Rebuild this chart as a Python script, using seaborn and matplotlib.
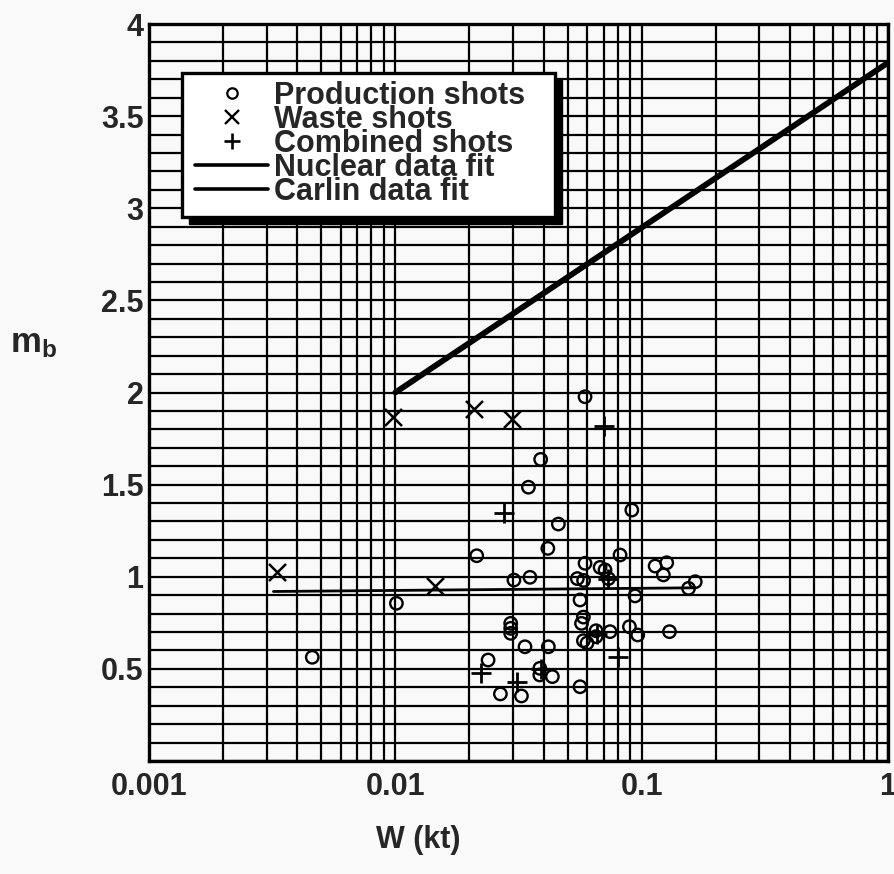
import matplotlib
matplotlib.use("Agg")
import matplotlib.pyplot as plt
import seaborn as sns
import numpy as np
import pandas as pd
from matplotlib.lines import Line2D
from matplotlib.patches import Rectangle
from matplotlib.ticker import FixedLocator, LogLocator, MultipleLocator, NullFormatter

# ---------------- data ----------------
production_w = [0.0046, 0.0101, 0.0589, 0.0389, 0.0347, 0.0459, 0.0416, 0.0214, 0.0303, 0.0352,
                0.0589, 0.0548, 0.0581, 0.0562, 0.0294, 0.0294, 0.0294, 0.058, 0.057, 0.058,
                0.0336, 0.0418, 0.0238, 0.0386, 0.0386, 0.0434, 0.0267, 0.0325, 0.0562, 0.0912,
                0.0817, 0.0678, 0.071, 0.1134, 0.1264, 0.1225, 0.155, 0.165, 0.094, 0.0653,
                0.0653, 0.060, 0.0744, 0.0892, 0.0964, 0.1297, 0.0733]
production_mb = [0.563, 0.856, 1.977, 1.637, 1.486, 1.286, 1.154, 1.114, 0.982, 0.997,
                 1.073, 0.99, 0.98, 0.874, 0.747, 0.72, 0.693, 0.781, 0.747, 0.653,
                 0.620, 0.620, 0.548, 0.503, 0.467, 0.458, 0.364, 0.353, 0.403, 1.362,
                 1.118, 1.051, 1.037, 1.058, 1.076, 1.01, 0.937, 0.973, 0.896, 0.707,
                 0.675, 0.64, 0.702, 0.729, 0.684, 0.702, 0.99]

waste_w = [0.0033, 0.0098, 0.0145, 0.0209, 0.0297]
waste_mb = [1.027, 1.865, 0.95, 1.910, 1.855]

combined_w = [0.0276, 0.0222, 0.0311, 0.0706, 0.0804, 0.039, 0.073, 0.066]
combined_mb = [1.348, 0.479, 0.43, 1.818, 0.566, 0.50, 0.99, 0.69]

nuclear_w = [0.01, 1.0]
nuclear_mb = [2.0, 3.79]

carlin_w = [0.0032, 0.165]
carlin_mb = [0.92, 0.94]

x_ticks = [0.001, 0.01, 0.1, 1]
x_ticklabels = ["0.001", "0.01", "0.1", "1"]
y_ticks = [0.5, 1, 1.5, 2, 2.5, 3, 3.5, 4]
y_ticklabels = ["0.5", "1", "1.5", "2", "2.5", "3", "3.5", "4"]

legend_labels = ["Production shots", "Waste shots", "Combined shots",
                 "Nuclear data fit", "Carlin data fit"]

# ---------------- style ----------------
sns.set_style("white")
plt.rcParams['font.family'] = ['Liberation Sans', 'DejaVu Sans']
plt.rcParams['font.weight'] = 'bold'
plt.rcParams['mathtext.fontset'] = 'custom'
plt.rcParams['mathtext.bf'] = 'Liberation Sans:bold'
plt.rcParams['mathtext.rm'] = 'Liberation Sans:bold'

bg = '#f9f9f9'
fig = plt.figure(figsize=(8.95, 8.74), dpi=100, facecolor=bg)
ax = fig.add_axes([149/895, 1-761/874, (888-149)/895, (761-24)/874])
ax.set_facecolor(bg)

# ---------------- marks ----------------
sns.lineplot(x=nuclear_w, y=nuclear_mb, ax=ax, color='k', linewidth=4.2, zorder=4)
sns.lineplot(x=carlin_w, y=carlin_mb, ax=ax, color='k', linewidth=2.0, zorder=4)

sns.scatterplot(x=production_w, y=production_mb, ax=ax, marker='o', s=80,
                facecolors='none', edgecolors='k', linewidth=1.7, zorder=5)
sns.scatterplot(x=waste_w, y=waste_mb, ax=ax, marker='x', s=150,
                color='k', linewidth=1.8, zorder=5)
sns.scatterplot(x=combined_w, y=combined_mb, ax=ax, marker='+', s=200,
                color='k', linewidth=2.0, zorder=5)

# ---------------- axes ----------------
ax.set_xscale('log')
ax.set_xlim(0.001, 1)
ax.set_ylim(0, 4)

ax.xaxis.set_major_locator(FixedLocator(x_ticks))
ax.set_xticklabels(x_ticklabels)
ax.xaxis.set_minor_locator(LogLocator(base=10, subs=np.arange(2, 10)))
ax.xaxis.set_minor_formatter(NullFormatter())
ax.set_yticks(y_ticks)
ax.set_yticklabels(y_ticklabels)
ax.yaxis.set_minor_locator(MultipleLocator(0.1))

ax.grid(which='both', color='k', linewidth=1.6, zorder=0)
ax.set_axisbelow(True)

ax.tick_params(axis='both', which='both', length=0)
ax.tick_params(axis='x', labelsize=22, pad=8)
ax.tick_params(axis='y', labelsize=22, pad=4)
for lab in ax.get_xticklabels() + ax.get_yticklabels():
    lab.set_fontweight('bold')

for sp in ax.spines.values():
    sp.set_color('k')
    sp.set_linewidth(2.4)

ax.set_xlabel("W (kt)", fontsize=22, fontweight='bold', va='center')
ax.xaxis.set_label_coords(0.365, -0.107)
ax.set_ylabel(r"$\mathbf{m_b}$", fontsize=25, rotation=0, va='center', ha='center')
ax.yaxis.set_label_coords(-0.156, 0.566)

# ---------------- legend ----------------
x0, x1 = (182-149)/739, (555-149)/739
y0, y1 = (761-217)/737, (761-73)/737
off_x, off_y = 7/739, 7/737
ax.add_patch(Rectangle((x0+off_x, y0-off_y), x1-x0, y1-y0, transform=ax.transAxes,
                       facecolor='k', edgecolor='k', zorder=8))
ax.add_patch(Rectangle((x0, y0), x1-x0, y1-y0, transform=ax.transAxes,
                       facecolor='white', edgecolor='k', linewidth=2.4, zorder=9))

handles = [
    Line2D([], [], marker='o', linestyle='none', markerfacecolor='none',
           markeredgecolor='k', markersize=7.5, markeredgewidth=1.6),
    Line2D([], [], marker='x', linestyle='none', color='k', markersize=10.5, markeredgewidth=1.7),
    Line2D([], [], marker='+', linestyle='none', color='k', markersize=12, markeredgewidth=1.9),
    Line2D([], [], color='k', linewidth=2.6),
    Line2D([], [], color='k', linewidth=2.6),
]
leg = ax.legend(handles, legend_labels, loc='upper left',
                bbox_to_anchor=((195-149)/739, (761-81)/737),
                frameon=False, labelspacing=-0.2,
                handlelength=2.4, handletextpad=0.2, borderpad=0.0,
                borderaxespad=0.0, prop={'weight': 'bold', 'size': 22})
leg.set_zorder(10)

fig.savefig("out.png", dpi=100, facecolor=bg)
